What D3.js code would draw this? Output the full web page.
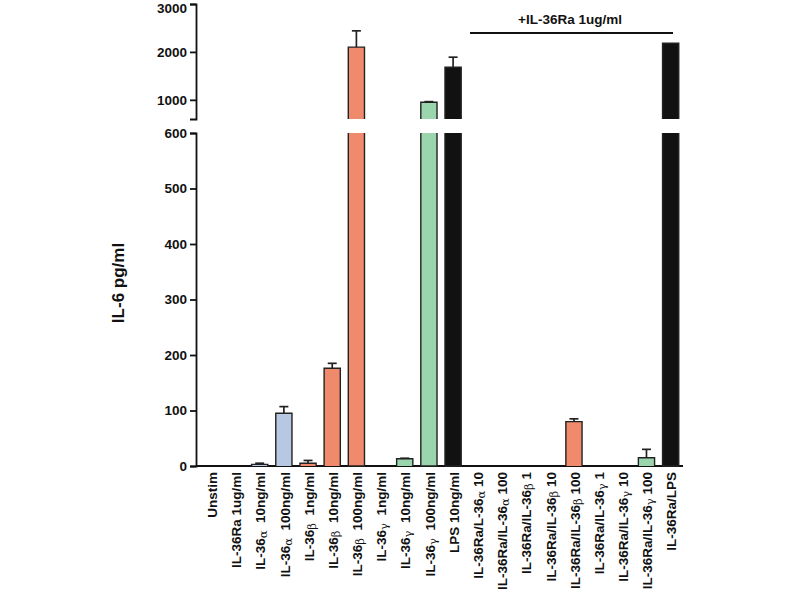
<!DOCTYPE html>
<html><head><meta charset="utf-8">
<script src="https://cdn.jsdelivr.net/npm/d3@7"></script>
<style>body{margin:0;background:#fff}svg{display:block}</style>
</head><body>
<svg id="c" width="800" height="600"></svg>
<script>
const categories = [
  "Unstim", "IL-36Ra 1ug/ml", "IL-36α  10ng/ml", "IL-36α  100ng/ml", "IL-36β  1ng/ml",
  "IL-36β  10ng/ml", "IL-36β  100ng/ml", "IL-36γ  1ng/ml", "IL-36γ  10ng/ml", "IL-36γ  100ng/ml",
  "LPS 10ng/ml", "IL-36Ra/L-36α 10", "IL-36Ra/IL-36α 100", "IL-36Ra/IL-36β 1", "IL-36Ra/IL-36β 10",
  "IL-36Ra/IL-36β 100", "IL-36Ra/IL-36γ 1", "IL-36Ra/IL-36γ 10", "IL-36Ra/IL-36γ 100", "IL-36Ra/LPS"
];
const values = [0, 0, 3, 95, 5, 176, 2100, 0, 13, 950, 1680, 0, 0, 0, 0, 80, 0, 0, 15, 2180];
const errors = [0, 0, 2, 12, 5, 9, 340, 0, 1, 12, 210, 0, 0, 0, 0, 5, 0, 0, 15, 0];
const stimulus = ["none","none","a","a","b","b","b","g","g","g","lps","a","a","b","b","b","g","g","g","lps"];
const lowTicks = [0, 100, 200, 300, 400, 500, 600];
const highTicks = [1000, 2000, 3000];
const groupLabel = "+IL-36Ra 1ug/ml";
const yTitle = "IL-6 pg/ml";

const colors = {none:"#cccccc", a:"#b7c9e2", b:"#ef8a6d", g:"#9bd5ae", lps:"#111111"};
const svg = d3.select("#c");
const FONT = "'Liberation Sans', Arial, sans-serif";

const x = d3.scaleBand().domain(categories).range([196, 686]).paddingInner(0.33).paddingOuter(0.3);
const yLow = d3.scaleLinear().domain([0, 600]).range([466, 133]);
const yHigh = d3.scaleLinear().domain([600, 3000]).range([119, 4]);
const axisX = 196;

// axes
const gLow = svg.append("g").attr("transform", `translate(${axisX},0)`)
  .call(d3.axisLeft(yLow).tickValues(lowTicks).tickFormat(d3.format("d")).tickSize(6).tickSizeOuter(6).tickPadding(3));
const gHigh = svg.append("g").attr("transform", `translate(${axisX},0)`)
  .call(d3.axisLeft(yHigh).tickValues(highTicks).tickFormat(d3.format("d")).tickSize(6).tickSizeOuter(6).tickPadding(3));
[gLow, gHigh].forEach(g => {
  g.selectAll("path,line").attr("stroke", "#111").attr("stroke-width", 1.8);
  g.selectAll("text").attr("font-family", FONT).attr("font-weight", "bold")
    .attr("font-size", 13.5).attr("fill", "#111");
});
gHigh.selectAll(".tick").filter(d => d === 3000).select("text").attr("dy", "0.62em");

// x axis line
svg.append("line").attr("x1", axisX).attr("x2", x.range()[1] - 3)
  .attr("y1", yLow(0)).attr("y2", yLow(0)).attr("stroke", "#111").attr("stroke-width", 1.8);

// bars
const bw = x.bandwidth();
categories.forEach((c, i) => {
  const v = values[i];
  if (v <= 0) return;
  const x0 = x(c), x1 = x0 + bw;
  const fill = colors[stimulus[i]];
  const lowTop = yLow(Math.min(v, 600));
  svg.append("rect").attr("x", x0).attr("y", lowTop).attr("width", bw)
    .attr("height", yLow(0) - lowTop).attr("fill", fill);
  const p = d3.path();
  if (v > 600) {
    p.moveTo(x0, lowTop); p.lineTo(x0, yLow(0)); p.lineTo(x1, yLow(0)); p.lineTo(x1, lowTop);
    const hTop = yHigh(v);
    svg.append("rect").attr("x", x0).attr("y", hTop).attr("width", bw)
      .attr("height", yHigh(600) - hTop).attr("fill", fill);
    p.moveTo(x0, yHigh(600)); p.lineTo(x0, hTop); p.lineTo(x1, hTop); p.lineTo(x1, yHigh(600));
  } else {
    p.moveTo(x0, yLow(0)); p.lineTo(x0, lowTop); p.lineTo(x1, lowTop); p.lineTo(x1, yLow(0));
  }
  svg.append("path").attr("d", p.toString()).attr("fill", "none")
    .attr("stroke", "#222").attr("stroke-width", 1.4);
  // error bar
  if (errors[i] > 0) {
    const yS = v > 600 ? yHigh : yLow;
    const cx = x0 + bw / 2;
    const yt = yS(v), ye = yS(v + errors[i]);
    svg.append("line").attr("x1", cx).attr("x2", cx).attr("y1", yt).attr("y2", ye)
      .attr("stroke", "#222").attr("stroke-width", 1.7);
    svg.append("line").attr("x1", cx - 4.5).attr("x2", cx + 4.5).attr("y1", ye).attr("y2", ye)
      .attr("stroke", "#222").attr("stroke-width", 1.7);
  }
});

// category labels
categories.forEach(c => {
  const cx = x(c) + bw / 2;
  const t = svg.append("text")
    .attr("transform", `translate(${cx + 1},${yLow(0) + 6}) rotate(-90)`)
    .attr("text-anchor", "end").attr("dy", "0.35em")
    .attr("font-family", FONT).attr("font-weight", "bold").attr("font-size", 13.5)
    .attr("fill", "#111").style("white-space", "pre");
  const parts = c.split(/([αβγ])/);
  parts.forEach(s => {
    if (!s) return;
    if (/[αβγ]/.test(s)) {
      t.append("tspan").text(s).attr("font-weight", "normal").attr("font-size", 11.5)
        .attr("font-family", "'DejaVu Serif', serif").attr("baseline-shift", "-15%");
    } else {
      t.append("tspan").text(s);
    }
  });
});

// group annotation
svg.append("text").attr("x", 570).attr("y", 24).attr("text-anchor", "middle")
  .attr("font-family", FONT).attr("font-weight", "bold").attr("font-size", 13.5)
  .attr("fill", "#111").text(groupLabel);
svg.append("line").attr("x1", 470).attr("x2", 673).attr("y1", 33).attr("y2", 33)
  .attr("stroke", "#111").attr("stroke-width", 1.8);

// y title
svg.append("text").attr("transform", "translate(124,283) rotate(-90)")
  .attr("text-anchor", "middle").attr("font-family", FONT).attr("font-weight", "bold")
  .attr("font-size", 17).attr("fill", "#111").text(yTitle);
</script>
</body></html>
